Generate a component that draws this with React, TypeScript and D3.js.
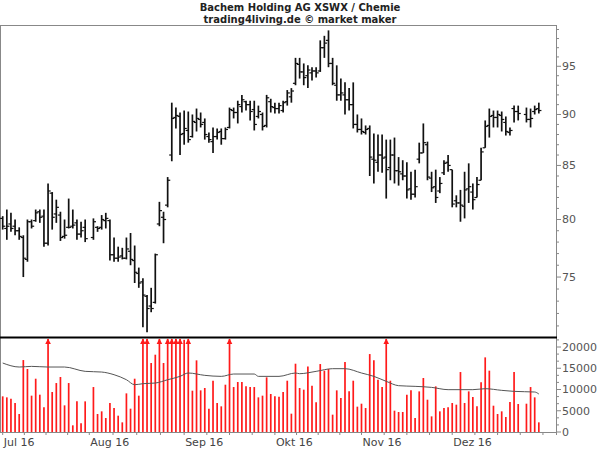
import React from 'react';
import * as d3 from 'd3';

const dates = [
  '2016-07-01','2016-07-04','2016-07-05','2016-07-06','2016-07-07','2016-07-08',
  '2016-07-11','2016-07-12','2016-07-13','2016-07-14','2016-07-15',
  '2016-07-18','2016-07-19','2016-07-20','2016-07-21','2016-07-22',
  '2016-07-25','2016-07-26','2016-07-27','2016-07-28','2016-07-29',
  '2016-08-02','2016-08-03','2016-08-04','2016-08-05',
  '2016-08-08','2016-08-09','2016-08-10','2016-08-11','2016-08-12',
  '2016-08-15','2016-08-16','2016-08-17','2016-08-18','2016-08-19',
  '2016-08-22','2016-08-23','2016-08-24','2016-08-25','2016-08-26',
  '2016-08-29','2016-08-30','2016-08-31','2016-09-01','2016-09-02',
  '2016-09-05','2016-09-06','2016-09-07','2016-09-08','2016-09-09',
  '2016-09-12','2016-09-13','2016-09-14','2016-09-15','2016-09-16',
  '2016-09-19','2016-09-20','2016-09-21','2016-09-22','2016-09-23',
  '2016-09-26','2016-09-27','2016-09-28','2016-09-29','2016-09-30',
  '2016-10-03','2016-10-04','2016-10-05','2016-10-06','2016-10-07',
  '2016-10-10','2016-10-11','2016-10-12','2016-10-13','2016-10-14',
  '2016-10-17','2016-10-18','2016-10-19','2016-10-20','2016-10-21',
  '2016-10-24','2016-10-25','2016-10-26','2016-10-27','2016-10-28',
  '2016-10-31','2016-11-01','2016-11-02','2016-11-03','2016-11-04',
  '2016-11-07','2016-11-08','2016-11-09','2016-11-10','2016-11-11',
  '2016-11-14','2016-11-15','2016-11-16','2016-11-17','2016-11-18',
  '2016-11-21','2016-11-22','2016-11-23','2016-11-24','2016-11-25',
  '2016-11-28','2016-11-29','2016-11-30','2016-12-01','2016-12-02',
  '2016-12-05','2016-12-06','2016-12-07','2016-12-08','2016-12-09',
  '2016-12-12','2016-12-13','2016-12-14','2016-12-15','2016-12-16',
  '2016-12-19','2016-12-20','2016-12-21','2016-12-22','2016-12-23',
  '2016-12-27','2016-12-28','2016-12-29','2016-12-30',
];

const open = [
  80.1,79.2,79.6,79.4,79.0,78.4, 76.5,79.8,79.9,80.7,80.3, 77.9,82.4,80.5,80.4,78.5,
  79.3,79.4,79.7,78.7,79.3, 78.4,79.3,79.3,79.9, 79.9,76.9,76.6,76.8,76.6,
  77.2,76.4,75.3,74.6,73.4, 72.6,72.9,79.6,80.2,81.3, 86.0,89.7,89.8,88.1,88.4,
  87.8,89.2,89.5,89.2,87.8, 87.3,87.8,88.3,87.6,88.7, 90.4,90.2,90.8,91.3,91.0,
  90.5,89.8,90.0,88.9,91.3, 90.7,90.6,90.4,91.3,91.8, 93.2,95.2,94.4,94.0,94.3,
  94.5,94.5,97.0,97.8,95.3, 93.0,92.0,92.0,91.5,91.0, 89.0,88.5,88.2,88.6,85.6,
  85.3,86.0,85.8,84.8,86.0, 84.5,84.2,84.0,82.8,82.3, 85.6,86.2,87.0,83.8,83.0,
  82.6,84.3,85.3,84.6,81.7, 81.5,81.2,82.8,82.5,82.0, 83.6,86.7,88.9,89.9,89.7,
  89.9,89.2,88.2,90.6,90.3, 90.0,89.5,90.3,90.6,
];
const high = [
  80.3,80.9,80.6,80.0,79.3,78.6, 80.0,80.0,80.9,80.9,80.9, 83.3,82.5,81.8,80.7,80.0,
  81.9,80.9,80.0,79.8,80.0, 80.1,79.4,80.4,80.6, 80.0,78.4,77.6,77.5,78.4,
  78.8,77.7,75.8,74.9,73.5, 74.1,77.0,81.6,80.7,83.9, 91.2,90.7,90.2,90.4,90.3,
  90.0,90.6,90.2,89.6,88.2, 88.7,88.6,88.6,88.7,90.7, 90.7,91.4,92.0,91.4,91.4,
  91.4,90.9,90.2,92.0,91.6, 91.2,91.2,91.4,92.5,92.7, 95.9,95.9,95.3,95.1,94.9,
  94.9,97.8,98.3,98.9,95.9, 95.1,93.7,93.3,92.7,93.3, 90.0,89.6,88.9,88.9,88.1,
  88.0,88.0,87.5,87.5,87.7, 85.8,85.5,85.3,84.4,84.6, 87.2,89.1,87.3,84.4,84.6,
  83.9,85.5,86.0,84.6,82.2, 82.7,84.4,85.2,83.3,83.9, 86.7,89.4,90.6,90.4,90.4,
  90.3,89.8,88.7,90.9,90.9, 90.7,90.6,90.9,91.2,
];
const low = [
  79.1,78.2,78.9,78.6,78.2,75.0, 76.3,79.2,79.8,79.7,77.6, 77.7,79.1,79.7,78.1,78.3,
  79.2,79.2,78.2,78.4,78.0, 78.2,78.9,79.1,79.2, 76.4,76.3,76.3,76.5,76.5,
  76.0,74.5,74.1,70.9,70.5, 72.1,72.8,79.4,77.9,81.1, 85.4,88.6,86.0,87.0,87.2,
  87.7,88.3,88.7,87.5,87.2, 86.2,87.5,87.0,87.5,88.6, 89.6,89.1,90.2,90.4,89.4,
  88.4,89.6,88.4,88.7,90.2, 90.1,90.1,90.2,90.9,91.2, 93.0,93.7,93.0,92.7,93.5,
  93.8,94.4,95.9,94.9,93.0, 91.4,91.4,90.0,90.4,88.6, 88.2,88.0,88.0,84.0,83.3,
  84.4,84.3,81.9,83.6,83.3, 83.1,83.6,81.9,81.8,82.0, 85.2,86.2,83.6,82.5,81.5,
  82.4,84.1,84.4,81.1,81.1, 79.8,80.1,81.5,80.9,82.0, 83.6,86.7,87.7,88.7,88.7,
  88.3,87.9,87.9,89.2,89.4, 89.2,88.7,90.0,90.1,
];
const close = [
  79.4,79.4,79.2,79.0,78.5,76.6, 79.8,79.4,80.6,80.2,77.9, 82.6,80.2,81.1,78.4,78.6,
  79.3,79.5,78.7,79.0,78.3, 79.8,79.2,80.0,80.1, 76.9,76.6,76.7,76.6,77.4,
  76.5,75.4,74.5,73.5,72.4, 72.4,76.9,80.8,80.0,83.6, 89.6,89.9,88.0,88.6,87.5,
  89.3,89.6,89.0,88.0,87.5, 87.8,88.2,87.6,88.5,90.5, 90.2,91.0,91.5,91.0,90.3,
  89.0,90.3,88.8,91.7,90.8, 90.6,90.9,91.2,92.2,92.4, 95.3,94.4,93.8,94.6,94.5,
  94.3,97.0,97.5,95.3,93.2, 92.0,92.2,91.5,91.0,89.0, 88.5,88.3,88.5,85.8,85.5,
  86.0,85.7,84.6,86.0,84.5, 84.4,84.0,82.7,82.3,83.0, 86.2,87.2,83.9,82.9,82.0,
  83.3,85.2,85.0,81.4,81.5, 81.3,82.7,83.0,81.8,83.2, 86.3,88.8,89.8,89.7,90.0,
  89.5,88.3,88.4,90.3,90.1, 89.5,89.6,90.5,90.4,
];
const volume = [
  8390,8150,7840,6820,4230,16930, 14820,8550,12540,8780,5800, 26000,9410,11520,12940,6270,
  11520,1570,7210,2040,7210, 10580,4230,4860,3290, 6820,5640,3840,2270,9090,
  5490,12540,8550,26000,26000, 16230,18190,26000,16230,26000, 26000,26000,26000,21700,26000,
  9720,16860,9800,10350,5490, 12070,6820,6040,11130,26000, 10580,11760,11760,10740,10580,
  10580,8150,8550,12860,8940, 8390,8310,9410,12070,4310, 16070,10350,9960,15440,10900,
  6980,15990,14430,14820,4080, 9800,8000,16460,9560,12070, 5960,6660,5640,18340,16860,
  12310,10580,26000,12070,5020, 4700,4700,8780,9800,3290, 9560,12700,7600,3680,10740,
  4860,5640,5800,6820,6430, 14110,6820,9560,8230,6040, 11680,17560,14430,6190,4230,
  4860,3530,7060,14110,6590, 6660,10580,8150,2270,
];

const maDates = [
  '2016-07-01','2016-07-07','2016-07-12','2016-07-18','2016-07-22','2016-07-29','2016-08-04',
  '2016-08-09','2016-08-12','2016-08-16','2016-08-18','2016-08-23','2016-08-26','2016-08-31',
  '2016-09-02','2016-09-08','2016-09-14','2016-09-19','2016-09-26','2016-09-27','2016-10-04',
  '2016-10-10','2016-10-11','2016-10-17','2016-10-21','2016-10-26','2016-11-01','2016-11-04',
  '2016-11-09','2016-11-14','2016-11-18','2016-11-24','2016-11-30','2016-12-08','2016-12-13',
  '2016-12-19','2016-12-22','2016-12-29','2016-12-30',
];
const maValues = [
  16230,15290,15440,15290,15290,14270,14110,
  13480,12300,11130,11370,11520,12300,13090,
  13880,13330,13090,13640,13640,13090,13090,
  13880,13720,14270,14900,14900,13880,13090,
  11920,10900,10740,10500,9960,9960,10190,
  9800,9560,9410,8940,
];

const monthStarts = ['2016-07-01','2016-08-01','2016-09-01','2016-10-03','2016-11-01','2016-12-01','2017-01-02'];
const monthLabels = ['Jul 16','Aug 16','Sep 16','Okt 16','Nov 16','Dez 16'];
const priceTicks = [75, 80, 85, 90, 95];
const volTicks = [0, 5000, 10000, 15000, 20000];

const W = 600, H = 450;
const left = 0, right = 556;
const priceTop = 25, priceBottom = 337.3;
const volTop = 338, volBottom = 432;

const startDay = new Date(Date.UTC(2016, 6, 1));
function wd(s: string): number {
  const d = new Date(s + 'T00:00:00Z');
  return d3.utcDay.range(startDay, d).filter((x) => x.getUTCDay() % 6 !== 0).length;
}

export default function App() {
  const x = d3.scaleLinear().domain([0, 130]).range([2.7, 2.7 + 4.124 * 130]);
  const y = d3.scaleLog().domain([70.1, 99.5]).range([priceBottom, priceTop]);
  const yv = d3.scaleLinear().domain([0, 20000]).range([volBottom, 347]);
  const vMax = yv.invert(volTop);

  const idx = dates.map(wd);
  const font = 'DejaVu Sans, Verdana, sans-serif';

  const minorPrice = d3.range(71, 100).filter((v) => v % 5 !== 0);
  const minorVol = d3.range(0, 22000, 5000 / 3).filter((_, i) => i % 3 !== 0);

  const mIdx = monthStarts.map(wd);
  const quarterTicks: number[] = [];
  for (let m = 0; m < mIdx.length - 1; m++) {
    for (let k = 0; k < 4; k++) quarterTicks.push(mIdx[m] + ((mIdx[m + 1] - mIdx[m]) * k) / 4);
  }
  quarterTicks.push(mIdx[mIdx.length - 1]);

  const maLine = d3
    .line<number>()
    .x((_, i) => x(wd(maDates[i])))
    .y((v) => yv(v))
    .curve(d3.curveMonotoneX);

  return (
    <svg width={W} height={H} style={{ position: 'absolute', left: 0, top: 0, background: '#fff' }}>
      <rect x={0} y={0} width={W} height={H} fill="#fff" />
      <text x={300} y={11} textAnchor="middle" fontFamily={font} fontWeight="bold" fontSize={10} fill="#222">
        Bachem Holding AG XSWX / Chemie
      </text>
      <text x={300} y={22.5} textAnchor="middle" fontFamily={font} fontWeight="bold" fontSize={10} fill="#222">
        trading4living.de © market maker
      </text>

      {/* frame */}
      <line x1={0} x2={right} y1={priceTop + 0.5} y2={priceTop + 0.5} stroke="#888" />
      <line x1={0.5} x2={0.5} y1={priceTop} y2={volBottom} stroke="#888" />
      <line x1={right + 0.5} x2={right + 0.5} y1={priceTop} y2={volBottom + 3} stroke="#888" />
      <line x1={0} x2={right + 1} y1={volBottom + 0.5} y2={volBottom + 0.5} stroke="#888" />

      {/* price axis */}
      {minorPrice.map((v) => (
        <line key={'mp' + v} x1={right} x2={right + 3} y1={y(v)} y2={y(v)} stroke="#888" />
      ))}
      {priceTicks.map((v) => (
        <g key={'pt' + v}>
          <line x1={right} x2={right + 5} y1={y(v)} y2={y(v)} stroke="#888" />
          <text x={right + 6} y={y(v)} dy="0.35em" fontFamily={font} fontSize={11} fill="#555">
            {v}
          </text>
        </g>
      ))}

      {/* volume axis */}
      {minorVol.map((v) => (
        <line key={'mv' + v} x1={right} x2={right + 3} y1={yv(v)} y2={yv(v)} stroke="#888" />
      ))}
      {volTicks.map((v) => (
        <g key={'vt' + v}>
          <line x1={right} x2={right + 5} y1={yv(v)} y2={yv(v)} stroke="#888" />
          <text x={right + 6} y={yv(v)} dy="0.35em" fontFamily={font} fontSize={11} fill="#555">
            {v}
          </text>
        </g>
      ))}

      {/* x axis */}
      {quarterTicks.map((t, i) => (
        <line key={'qt' + i} x1={x(t)} x2={x(t)} y1={volBottom} y2={volBottom + 3} stroke="#888" />
      ))}
      {monthLabels.map((l, i) => (
        <text key={l} x={x(mIdx[i]) + 1} y={446} fontFamily={font} fontSize={11} fill="#444">
          {l}
        </text>
      ))}

      {/* volume bars */}
      {volume.map((v, i) => {
        const cx = x(idx[i]);
        const capped = v > vMax;
        const top = capped ? volTop + 1 : yv(v);
        return (
          <g key={'v' + i}>
            <line x1={cx} x2={cx} y1={volBottom} y2={top} stroke="#ff1a1a" strokeWidth={1.7} />
            {capped && (
              <path d={`M${cx - 2.8},${volTop + 6}L${cx + 2.8},${volTop + 6}L${cx},${volTop + 0.5}Z`} fill="#ff1a1a" />
            )}
          </g>
        );
      })}
      <path d={maLine(maValues) || ''} fill="none" stroke="#555" strokeWidth={1} />

      {/* separator */}
      <line x1={0} x2={right + 1} y1={337.5} y2={337.5} stroke="#000" strokeWidth={2} />

      {/* OHLC bars */}
      {dates.map((d, i) => {
        const cx = x(idx[i]);
        return (
          <g key={'b' + i} stroke="#111">
            <line x1={cx} x2={cx} y1={y(high[i])} y2={y(low[i])} strokeWidth={1.7} />
            <line x1={cx - 2.6} x2={cx} y1={y(open[i])} y2={y(open[i])} strokeWidth={1.2} />
            <line x1={cx} x2={cx + 2.6} y1={y(close[i])} y2={y(close[i])} strokeWidth={1.2} />
          </g>
        );
      })}
    </svg>
  );
}
